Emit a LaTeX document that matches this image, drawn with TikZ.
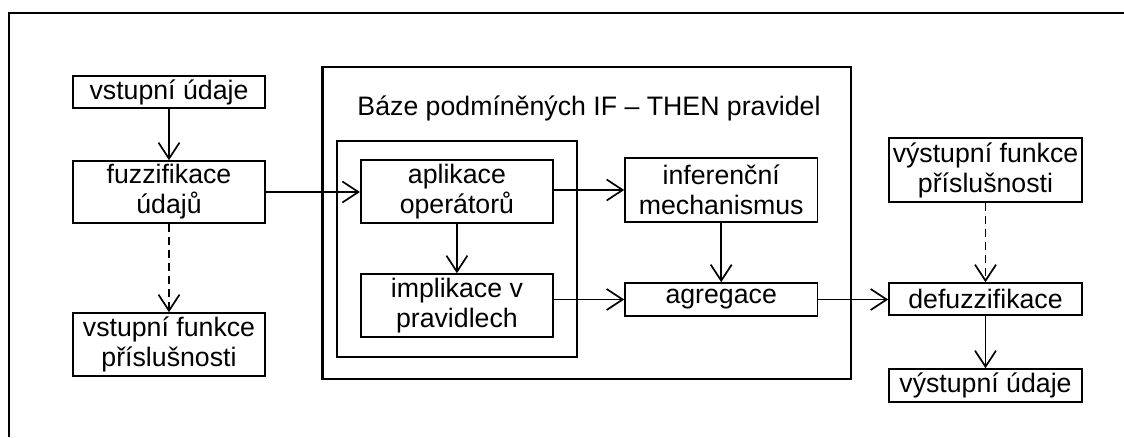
\documentclass[tikz,border=0pt]{standalone}
\usepackage{fontspec}
\setmainfont{Liberation Sans}
\usetikzlibrary{arrows.meta}
\begin{document}
\begin{tikzpicture}[x=1pt,y=-1pt,
  txt/.style={font=\fontsize{26.7}{30}\selectfont},
  box/.style={draw, line width=1.6pt, inner sep=0pt, align=center, txt},
  arr/.style={line width=1.7pt, -{Straight Barb[length=16pt,width=21pt,line width=1.7pt]}},
  darr/.style={arr, dash pattern=on 8pt off 5pt}]
\useasboundingbox (0,0) rectangle (1124,437);
\draw[line width=2.2pt] (9,437) -- (9,13) -- (1124,13);
\node[draw, line width=2.4pt, minimum width=528.5pt, minimum height=312pt] (baze) at (586.75,223) {};
\node[txt, inner sep=0pt] (title) at (589,108) {Báze podmíněných IF – THEN pravidel};
\node[draw, line width=1.6pt, minimum width=240.3pt, minimum height=216pt] (inner) at (456.9,249) {};
\node[box, minimum width=192pt, minimum height=32pt] (in) at (169,92) {vstupní údaje};
\node[box, minimum width=192pt, minimum height=62pt] (fuzz) at (169,192) {fuzzifikace\\údajů};
\node[box, minimum width=192pt, minimum height=63pt] (infn) at (169,344.5) {vstupní funkce\\příslušnosti};
\node[box, minimum width=192.3pt, minimum height=63pt] (apl) at (456.9,191.5) {aplikace\\operátorů};
\node[box, minimum width=192.3pt, minimum height=63pt] (imp) at (456.9,305.5) {implikace v\\pravidlech};
\node[box, minimum width=192.4pt, minimum height=64pt] (inf) at (721.2,190) {inferenční\\mechanismus};
\node[box, minimum width=192.4pt, minimum height=33pt] (agr) at (721.2,299.5) {agregace};
\node[box, minimum width=193pt, minimum height=64pt] (vfun) at (985.5,170) {výstupní funkce\\příslušnosti};
\node[box, minimum width=193pt, minimum height=32pt] (defuz) at (985.5,299) {defuzzifikace};
\node[box, minimum width=193pt, minimum height=33pt] (vud) at (985.5,385.5) {výstupní údaje};
\draw[arr] (in) -- (fuzz);
\draw[darr] (fuzz) -- (infn);
\draw[arr] (fuzz.east) -- (apl.west |- fuzz.east);
\draw[arr] (apl.east |- inf.west) -- (inf.west);
\draw[arr] (apl) -- (imp);
\draw[arr] (inf) -- (agr);
\draw[arr] (imp.east |- agr.west) -- (agr.west);
\draw[arr] (agr.east) -- (defuz.west |- agr.east);
\draw[darr] (vfun) -- (defuz);
\draw[arr] (defuz) -- (vud);
\end{tikzpicture}
\end{document}
